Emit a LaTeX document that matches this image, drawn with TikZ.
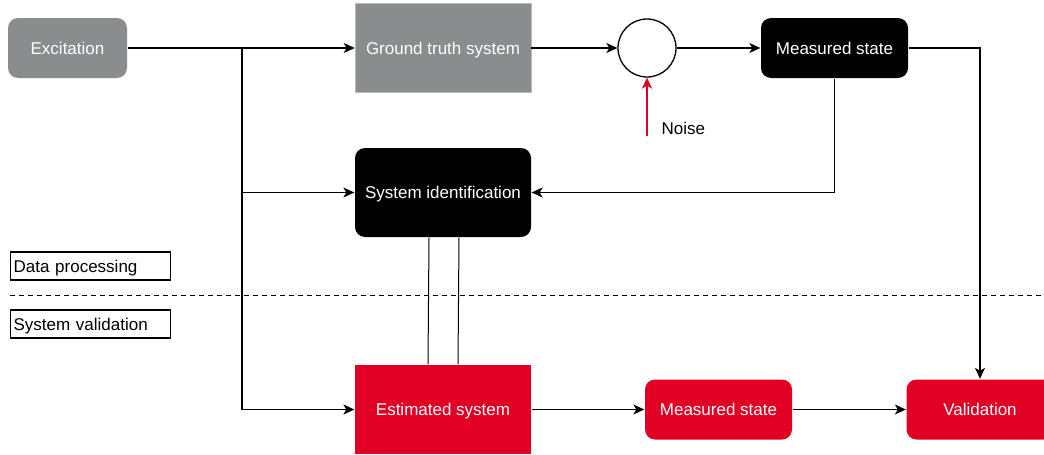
\documentclass[tikz,border=0pt]{standalone}
\usepackage{fontspec}
\setmainfont{Liberation Sans}
\usepackage{tikz}
\usetikzlibrary{arrows.meta}

\definecolor{boxgray}{RGB}{139,140,142}
\definecolor{boxred}{RGB}{225,0,36}
\tikzset{
    lbl/.style={font=\fontsize{17}{20}\selectfont, text height=12.2pt, text depth=0pt},
    blk/.style={lbl, minimum width=176pt, minimum height=89pt, inner sep=0pt, text=white},
    rblk/.style={lbl, rounded corners=10pt, minimum width=147pt, minimum height=60pt, inner sep=0pt, text=white},
    tag/.style={lbl, draw, anchor=west, minimum width=160pt, minimum height=28pt, inner sep=2pt, text width=154pt, align=left},
    arr/.style={-{Stealth[length=11pt,width=10pt,inset=3pt]}}
}

\begin{document}
\begin{tikzpicture}[x=1pt, y=-1pt, line width=1.3pt]
        \useasboundingbox (0, 0) rectangle (1044, 455);
        \clip (0, 0) rectangle (1044, 455);

        % top row
        \node[rblk, fill=boxgray, minimum width=119pt] (exc) at (67.5, 48) {Excitation};
        \node[blk, fill=boxgray, draw=boxgray!60, line width=0.6pt] (gts) at (443, 48) {Ground truth system};
        \node[draw, circle, minimum size=58pt, inner sep=0pt] (sum) at (647, 48) {};
        \node[rblk, fill=black] (meas) at (834.5, 48) {Measured state};
        \coordinate (noise) at (647, 136);
        \node[lbl, anchor=west, inner sep=0pt] (noiselbl) at (661, 128) {Noise};

        % identification
        \node[blk, fill=black, rounded corners=10pt] (sysid) at (443, 192.5) {System identification};

        % phase labels
        \node[tag] (dp) at (10, 266) {Data processing};
        \node[tag] (sv) at (10, 324) {System validation};
        \draw[dashed, line width=1pt, dash pattern=on 5pt off 4pt] (10, 295) coordinate (dl) -- (1044, 295) coordinate (dr);

        % validation row
        \node[blk, fill=boxred] (est) at (443, 409.5) {Estimated system};
        \node[rblk, fill=boxred] (meas2) at (718.5, 409.5) {Measured state};
        \node[rblk, fill=boxred] (val) at (980, 409.5) {Validation};

        % connectors
        \coordinate (split) at (242, 48);
        \draw[arr] (exc) -- (gts);
        \draw[arr] (split) |- (sysid);
        \draw[arr] (split) |- (est);
        \draw[arr] (gts) -- (sum);
        \draw[arr] (sum) -- (meas);
        \draw[arr, draw=boxred] (noise) -- (sum);
        \draw[arr] (meas) |- (sysid);
        \draw[arr] (meas) -| (val);
        \draw[arr] (est) -- (meas2);
        \draw[arr] (meas2) -- (val);
        \draw[line width=1pt] ([xshift=-14pt]sysid.south) -- ([xshift=-15pt]est.north);
        \draw[line width=1pt] ([xshift=16pt]sysid.south) -- ([xshift=15pt]est.north);
\end{tikzpicture}
\end{document}
